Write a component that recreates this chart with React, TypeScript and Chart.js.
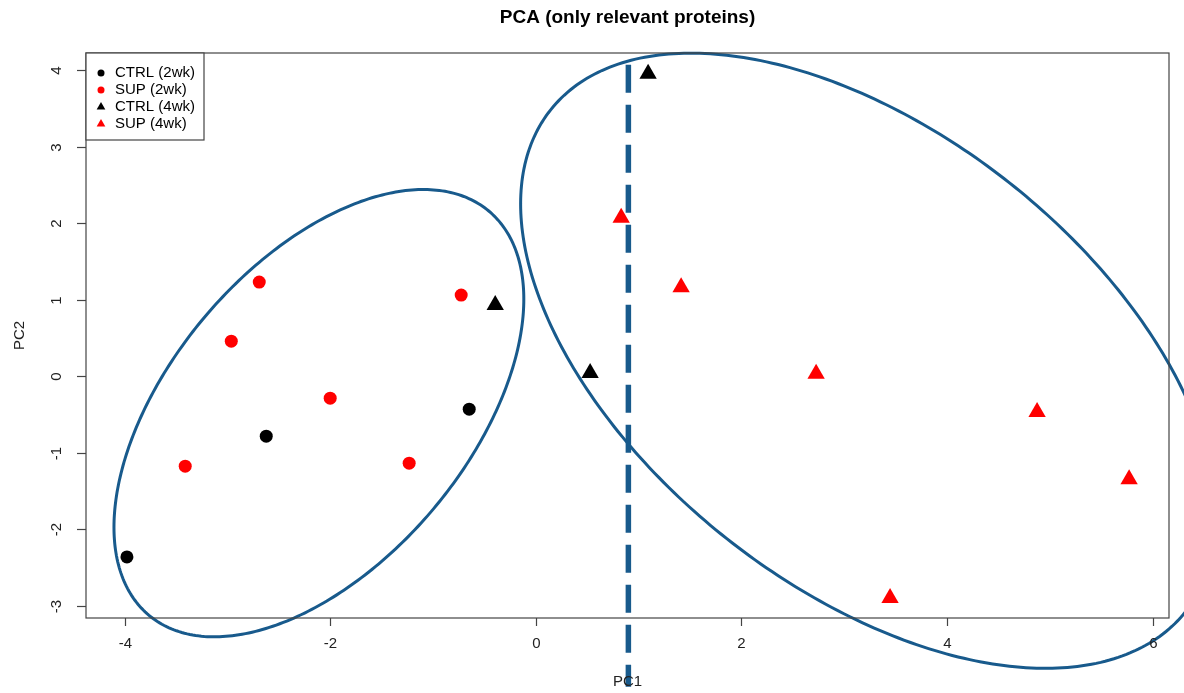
import React, { useEffect, useRef } from "react";
import { Chart, registerables } from "chart.js";

Chart.register(...registerables);

// ---------- data ----------
const ctrl2wk = [
  { x: -3.977, y: -2.364 },
  { x: -2.622, y: -0.786 },
  { x: -0.648, y: -0.433 },
];
const sup2wk = [
  { x: -2.69, y: 1.228 },
  { x: -2.962, y: 0.456 },
  { x: -3.41, y: -1.178 },
  { x: -2.0, y: -0.289 },
  { x: -1.232, y: -1.139 },
  { x: -0.726, y: 1.058 },
];
const ctrl4wk = [
  { x: 1.092, y: 3.95 },
  { x: -0.395, y: 0.93 },
  { x: 0.528, y: 0.04 },
];
const sup4wk = [
  { x: 0.83, y: 2.07 },
  { x: 1.413, y: 1.16 },
  { x: 2.726, y: 0.03 },
  { x: 4.875, y: -0.47 },
  { x: 5.77, y: -1.35 },
  { x: 3.445, y: -2.9 },
];

const seriesNames = ["CTRL (2wk)", "SUP (2wk)", "CTRL (4wk)", "SUP (4wk)"];
const seriesColors = ["#000000", "#ff0000", "#000000", "#ff0000"];
const seriesShapes = ["circle", "circle", "triangle", "triangle"];

const xTicks = [-4, -2, 0, 2, 4, 6];
const yTicks = [-3, -2, -1, 0, 1, 2, 3, 4];
const xRange = [-4.375, 6.158];
const yRange = [-3.162, 4.222];

const cutoffX = 0.9;
const cutoffYSpan = [4.07, -4.06];

// ellipse shapes: centre, half extents along x / y, correlation
const ellipseLeft = { cx: -2.11, cy: -0.485, rx: 1.993, ry: 2.923, rho: 0.51 };
const ellipseRight = { cx: 3.232, cy: 0.2, rx: 3.38, ry: 4.02, rho: -0.51 };

const titleText = "PCA (only relevant proteins)";
const xTitle = "PC1";
const yTitle = "PC2";

const FONT = "'Liberation Sans', Arial, sans-serif";
const BLUE = "#185a8c";

function drawMarker(ctx: CanvasRenderingContext2D, shape: string, x: number, y: number, r: number, color: string) {
  ctx.fillStyle = color;
  ctx.beginPath();
  if (shape === "circle") {
    ctx.arc(x, y, r, 0, Math.PI * 2);
  } else {
    ctx.moveTo(x, y - r);
    ctx.lineTo(x + r * Math.sin((2 * Math.PI) / 3), y + r / 2);
    ctx.lineTo(x - r * Math.sin((2 * Math.PI) / 3), y + r / 2);
    ctx.closePath();
  }
  ctx.fill();
}

const decorPlugin = {
  id: "decor",
  beforeDatasetsDraw(chart: any) {
    const ctx: CanvasRenderingContext2D = chart.ctx;
    const xs = chart.scales.x;
    const ys = chart.scales.y;
    ctx.save();
    ctx.strokeStyle = BLUE;
    ctx.lineWidth = 3;
    for (const e of [ellipseLeft, ellipseRight]) {
      const d = Math.acos(e.rho);
      ctx.beginPath();
      for (let i = 0; i <= 360; i++) {
        const t = (i / 360) * Math.PI * 2;
        const px = xs.getPixelForValue(e.cx + e.rx * Math.cos(t));
        const py = ys.getPixelForValue(e.cy + e.ry * Math.cos(t - d));
        if (i === 0) ctx.moveTo(px, py);
        else ctx.lineTo(px, py);
      }
      ctx.closePath();
      ctx.stroke();
    }
    ctx.restore();
  },
  afterDatasetsDraw(chart: any) {
    const ctx: CanvasRenderingContext2D = chart.ctx;
    const xs = chart.scales.x;
    const ys = chart.scales.y;
    ctx.save();
    ctx.strokeStyle = BLUE;
    ctx.lineWidth = 5.5;
    ctx.setLineDash([28, 12]);
    ctx.lineCap = "butt";
    const px = xs.getPixelForValue(cutoffX);
    ctx.beginPath();
    ctx.moveTo(px, ys.getPixelForValue(cutoffYSpan[0]));
    ctx.lineTo(px, ys.getPixelForValue(cutoffYSpan[1]));
    ctx.stroke();
    ctx.restore();
  },
  afterDraw(chart: any) {
    const ctx: CanvasRenderingContext2D = chart.ctx;
    const xs = chart.scales.x;
    const ys = chart.scales.y;
    const a = chart.chartArea;
    ctx.save();
    // box
    ctx.strokeStyle = "#444";
    ctx.lineWidth = 1.2;
    ctx.setLineDash([]);
    ctx.strokeRect(a.left, a.top, a.right - a.left, a.bottom - a.top);

    // x axis ticks
    ctx.fillStyle = "#222";
    ctx.font = `15px ${FONT}`;
    ctx.textAlign = "center";
    ctx.textBaseline = "middle";
    for (const v of xTicks) {
      const px = Math.round(xs.getPixelForValue(v)) + 0.5;
      ctx.beginPath();
      ctx.moveTo(px, a.bottom);
      ctx.lineTo(px, a.bottom + 8);
      ctx.stroke();
      ctx.fillText(String(v), px, a.bottom + 26);
    }
    // y axis ticks (rotated labels)
    for (const v of yTicks) {
      const py = Math.round(ys.getPixelForValue(v)) + 0.5;
      ctx.beginPath();
      ctx.moveTo(a.left, py);
      ctx.lineTo(a.left - 9, py);
      ctx.stroke();
      ctx.save();
      ctx.translate(a.left - 29, py);
      ctx.rotate(-Math.PI / 2);
      ctx.fillText(String(v), 0, 0);
      ctx.restore();
    }
    // axis titles
    ctx.fillText(xTitle, (a.left + a.right) / 2, a.bottom + 64);
    ctx.save();
    ctx.translate(a.left - 66, (a.top + a.bottom) / 2);
    ctx.rotate(-Math.PI / 2);
    ctx.fillText(yTitle, 0, 0);
    ctx.restore();

    // title
    ctx.fillStyle = "#000";
    ctx.font = `bold 19px ${FONT}`;
    ctx.fillText(titleText, (a.left + a.right) / 2, 18);

    // legend
    const lx = a.left;
    const ly = a.top;
    const lw = 118;
    const lh = 87;
    ctx.fillStyle = "#fff";
    ctx.fillRect(lx, ly, lw, lh);
    ctx.strokeStyle = "#444";
    ctx.strokeRect(lx, ly, lw, lh);
    ctx.font = `15px ${FONT}`;
    ctx.textAlign = "left";
    for (let i = 0; i < seriesNames.length; i++) {
      const ry = ly + 20 + i * 17;
      drawMarker(ctx, seriesShapes[i], lx + 15, ry, seriesShapes[i] === "circle" ? 3.5 : 5, seriesColors[i]);
      ctx.fillStyle = "#000";
      ctx.fillText(seriesNames[i], lx + 29, ry);
    }
    ctx.restore();
  },
};

export default function App() {
  const ref = useRef<HTMLCanvasElement | null>(null);
  useEffect(() => {
    if (!ref.current) return;
    const all = [ctrl2wk, sup2wk, ctrl4wk, sup4wk];
    const chart = new Chart(ref.current, {
      type: "scatter",
      data: {
        datasets: all.map((d, i) => ({
          label: seriesNames[i],
          data: d,
          pointStyle: seriesShapes[i] as any,
          pointRadius: seriesShapes[i] === "circle" ? 6.5 : 10,
          pointBackgroundColor: seriesColors[i],
          pointBorderColor: seriesColors[i],
          pointBorderWidth: 0,
          clip: false as any,
        })),
      },
      options: {
        responsive: false,
        animation: false,
        events: [],
        layout: { padding: { top: 53, right: 15, left: 0, bottom: 0 } },
        plugins: { legend: { display: false }, tooltip: { enabled: false }, title: { display: false } },
        scales: {
          x: {
            type: "linear",
            min: xRange[0],
            max: xRange[1],
            grid: { display: false },
            border: { display: false },
            ticks: { display: false },
            afterFit: (s: any) => {
              s.height = 75;
            },
          },
          y: {
            type: "linear",
            min: yRange[0],
            max: yRange[1],
            grid: { display: false },
            border: { display: false },
            ticks: { display: false },
            afterFit: (s: any) => {
              s.width = 86;
            },
          },
        },
      },
      plugins: [decorPlugin],
    });
    return () => chart.destroy();
  }, []);
  return (
    <div style={{ position: "absolute", left: 0, top: 0, width: 1184, height: 693, background: "#fff" }}>
      <canvas ref={ref} width={1184} height={693} style={{ display: "block" }} />
    </div>
  );
}
